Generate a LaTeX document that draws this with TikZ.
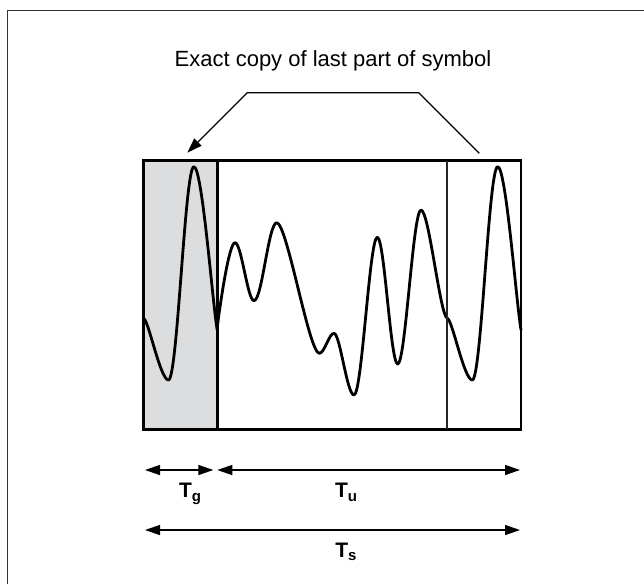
\documentclass[tikz,border=0pt]{standalone}
\usepackage{fontspec}
\setmainfont{Liberation Sans}
\usetikzlibrary{arrows.meta}
\definecolor{guardgray}{RGB}{220,221,223}
\definecolor{framegray}{RGB}{50,50,50}
\newcommand{\labsub}[1]{\raisebox{-3.3pt}{\fontsize{15}{15}\selectfont\bfseries #1}}
\begin{document}
\begin{tikzpicture}[x=1pt,y=-1pt,
  wave/.style={line width=2.8pt, line join=round, line cap=round},
  boxline/.style={line width=2.8pt},
  conn/.style={line width=1.4pt},
  tip/.style={-{Triangle[length=15pt,width=10pt]}},
  dim/.style={line width=1.4pt, {Triangle[length=15pt,width=10pt]}-{Triangle[length=15pt,width=10pt]}},
  lbl/.style={font=\fontsize{21}{22}\selectfont\bfseries, anchor=base, inner sep=0pt},
]
\useasboundingbox (0,0) rectangle (644,584);
% outer frame
\draw[framegray, line width=1.8pt] (7.5,584) -- (7.5,10.5) -- (644,10.5);
% symbol box
\fill[guardgray] (143.5,160.7) rectangle (217.3,429.3);
% waveform: copied part (guard) and end part
\begin{scope}[xshift=-303.8pt]
\draw[wave] (447.3,318.3) .. controls (452.5,320) and (464,380) .. (472.3,380)
  .. controls (481.3,380) and (488.7,166.7) .. (497.7,166.7)
  .. controls (506,166.7) and (516,300) .. (521,330);
\end{scope}
\draw[wave] (447.3,318.3) .. controls (452.5,320) and (464,380) .. (472.3,380)
  .. controls (481.3,380) and (488.7,166.7) .. (497.7,166.7)
  .. controls (506,166.7) and (516,300) .. (521,330);
% middle part
\draw[wave] (217.3,327) .. controls (220,305) and (229,242.7) .. (235,242.7)
  .. controls (241.5,242.7) and (247.5,300.7) .. (254,300.7)
  .. controls (262,300.7) and (268.5,222.7) .. (276.7,222.7)
  .. controls (287,222.7) and (309,353.3) .. (319.3,353.3)
  .. controls (324.5,353.3) and (329,333.3) .. (334,333.3)
  .. controls (340,333.3) and (347,395) .. (354,395)
  .. controls (362,395) and (369.5,237.3) .. (377.3,237.3)
  .. controls (384.5,237.3) and (390.5,364) .. (397.7,364)
  .. controls (405.5,364) and (413,210) .. (421,210)
  .. controls (429,210) and (440,316) .. (447.3,318.3);
\draw[boxline] (143.5,160.7) rectangle (521,429.3);
\draw[boxline] (217.3,160.7) -- (217.3,429.3);
\draw[line width=2.3pt, black!85] (447.3,160.7) -- (447.3,429.3);
% title and connector
\node[font=\fontsize{22}{26}\selectfont, anchor=base, inner sep=0pt] (title) at (333,66.5) {Exact copy of last part of symbol};
\coordinate (hl) at (247.3,92.7);
\coordinate (hr) at (418.7,92.7);
\coordinate (tipL) at (187.3,152.7);
\coordinate (endR) at (479.3,153.3);
\draw[conn, tip] (endR) -- (hr) -- (hl) -- (tipL);
% dimensions
\coordinate (g1) at (145,470);
\coordinate (g2) at (213.3,470);
\coordinate (u1) at (217.3,470);
\coordinate (u2) at (520,470);
\coordinate (s1) at (145,530);
\coordinate (s2) at (520,530);
\draw[dim] (g1) -- (g2);
\draw[dim] (u1) -- (u2);
\draw[dim] (s1) -- (s2);
\node[lbl] (tg) at (190,497.7) {T\labsub{g}};
\node[lbl] (tu) at (346,497.7) {T\labsub{u}};
\node[lbl] (ts) at (346,557) {T\labsub{s}};
\end{tikzpicture}
\end{document}
